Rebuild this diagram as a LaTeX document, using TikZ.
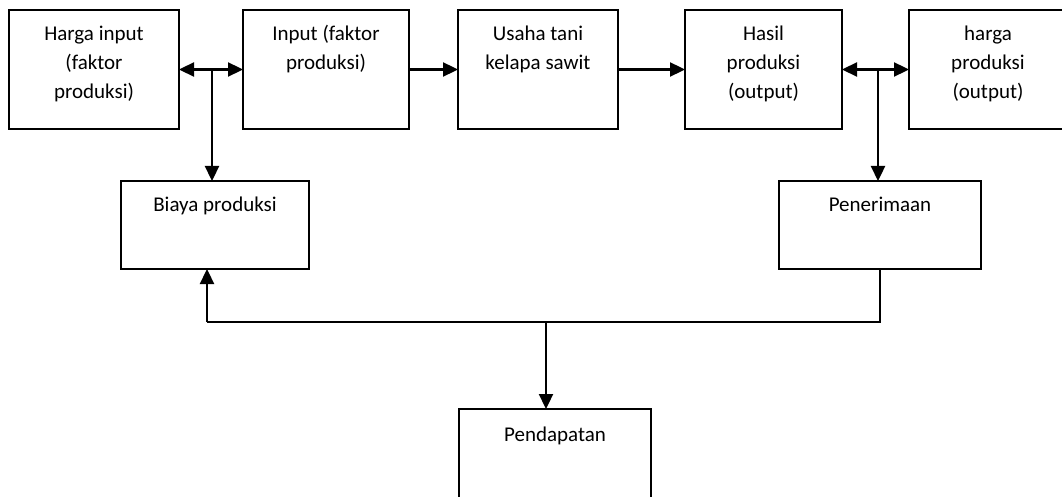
\documentclass[tikz,border=0pt]{standalone}
\usepackage{fontspec}
\setmainfont{Carlito}
\usetikzlibrary{positioning,arrows.meta}
\begin{document}
\begin{tikzpicture}[x=1pt,y=-1pt,
        box/.style={draw,line width=1.7pt,outer sep=0pt,inner sep=0pt},
        lbl/.style={align=center,inner sep=0pt,font=\fontsize{21}{29}\selectfont},
        arr/.style={line width=2.3pt,-{Triangle[length=15pt,width=14pt]}},
        darr/.style={line width=2.3pt,{Triangle[length=15pt,width=14pt]}-{Triangle[length=15pt,width=14pt]}},
        line/.style={line width=2pt}]
        \useasboundingbox (0,0) rectangle (1062,497);
        \clip (0,0) rectangle (1062,497);
        % top row
        \node[box,minimum width=170pt,minimum height=119pt] (hin) at (94,69.5) {};
        \node[box,minimum width=166pt,minimum height=119pt] (inp) at (326,69.5) {};
        \node[box,minimum width=160pt,minimum height=119pt] (usaha) at (538,69.5) {};
        \node[box,minimum width=157pt,minimum height=119pt] (hasil) at (763.5,69.5) {};
        \node[box,minimum width=158pt,minimum height=119pt] (hprod) at (988,69.5) {};
        % middle and bottom
        \node[box,minimum width=188pt,minimum height=88pt] (biaya) at (215,225) {};
        \node[box,minimum width=202pt,minimum height=88pt] (pen) at (880,225) {};
        \node[box,minimum width=192pt,minimum height=119pt] (pend) at (555,468.5) {};
        % texts
        \node[lbl,below=9.7pt of hin.north] (hinT) {\strut Harga input\\(faktor\\produksi)};
        \node[lbl,below=9.7pt of inp.north] (inpT) {\strut Input (faktor\\produksi)};
        \node[lbl,below=9.7pt of usaha.north] (usahaT) {\strut Usaha tani\\kelapa sawit};
        \node[lbl,below=9.7pt of hasil.north] (hasilT) {\strut Hasil\\produksi\\(output)};
        \node[lbl,below=9.7pt of hprod.north] (hprodT) {\strut harga\\produksi\\(output)};
        \node[lbl,below=9.7pt of biaya.north] (biayaT) {\strut Biaya produksi};
        \node[lbl,below=9.7pt of pen.north] (penT) {\strut Penerimaan};
        \node[lbl,below=11.7pt of pend.north] (pendT) {\strut Pendapatan};
        % junctions
        \coordinate (j1) at (212,69.5);
        \coordinate (j2) at (878,69.5);
        \coordinate (j3) at (207,322);
        \coordinate (j4) at (546,322);
        % connectors
        \draw[darr] (hin) -- (inp);
        \draw[arr] (inp) -- (usaha);
        \draw[arr] (usaha) -- (hasil);
        \draw[darr] (hasil) -- (hprod);
        \draw[arr] (j1) -- (j1 |- biaya.north);
        \draw[arr] (j2) -- (j2 |- pen.north);
        \draw[line] (pen.south) |- (j3);
        \draw[arr] (j3) -- (j3 |- biaya.south);
        \draw[arr] (j4) -- (j4 |- pend.north);
\end{tikzpicture}
\end{document}
